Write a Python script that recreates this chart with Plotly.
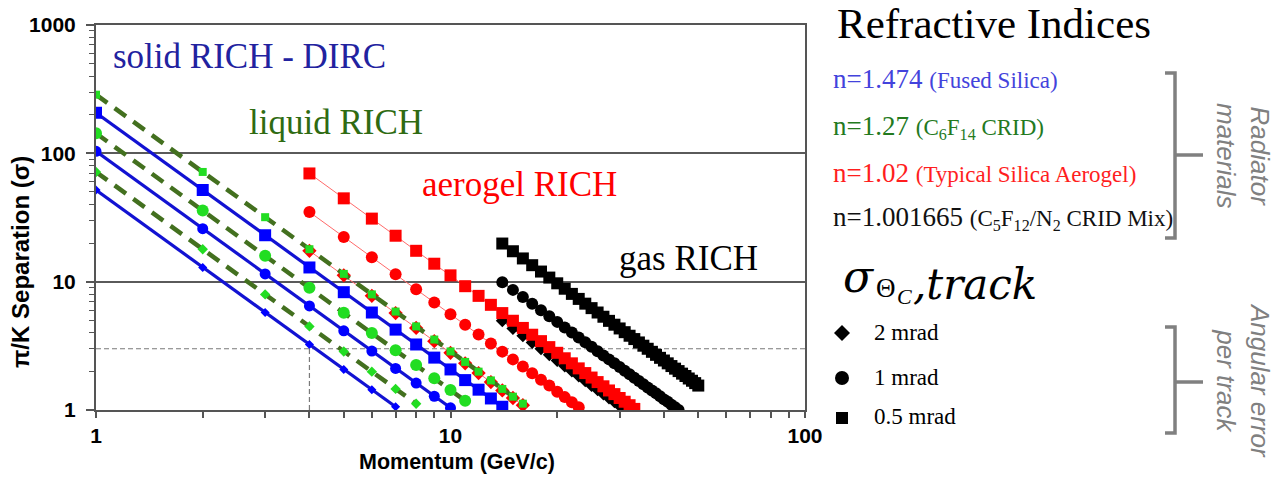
import plotly.graph_objects as go

W, H = 1282, 477

# ---------------- data (pi/K separation in sigma vs momentum in GeV/c) ----------------
# n = 1.474 fused silica (solid RICH / DIRC)
mom_silica_sq = list(range(1, 15))
sep_silica_sq = [207.1, 51.8, 23.0, 12.9, 8.28, 5.75, 4.23, 3.24, 2.56, 2.07, 1.71, 1.44, 1.23, 1.06]
mom_silica_ci = list(range(1, 11))
sep_silica_ci = [103.6, 25.9, 11.5, 6.47, 4.14, 2.88, 2.11, 1.62, 1.28, 1.04]
mom_silica_di = list(range(1, 8))
sep_silica_di = [51.8, 12.9, 5.75, 3.24, 2.07, 1.44, 1.06]

# n = 1.27 C6F14 (liquid RICH)
mom_liquid_sq = list(range(1, 17))
sep_liquid_sq = [286.5, 71.6, 31.8, 17.9, 11.5, 7.96, 5.85, 4.48, 3.54, 2.86, 2.37, 1.99, 1.70, 1.46, 1.27, 1.12]
mom_liquid_ci = list(range(1, 12))
sep_liquid_ci = [143.2, 35.8, 15.9, 8.95, 5.73, 3.98, 2.92, 2.24, 1.77, 1.43, 1.18]
mom_liquid_di = list(range(1, 9))
sep_liquid_di = [71.6, 17.9, 7.96, 4.48, 2.86, 1.99, 1.46, 1.12]

# n = 1.02 aerogel
mom_aero_sq = list(range(4, 34))
sep_aero_sq = [69.7, 44.6, 31.0, 22.8, 17.4, 13.8, 11.2, 9.22, 7.75, 6.60, 5.69, 4.96, 4.36, 3.86, 3.44,
               3.09, 2.79, 2.53, 2.31, 2.11, 1.94, 1.79, 1.65, 1.53, 1.42, 1.33, 1.24, 1.16, 1.09, 1.02]
mom_aero_ci = list(range(4, 24))
sep_aero_ci = [34.9, 22.3, 15.5, 11.4, 8.72, 6.89, 5.58, 4.61, 3.87, 3.30, 2.85, 2.48, 2.18, 1.93, 1.72,
               1.55, 1.39, 1.26, 1.15, 1.05]
mom_aero_di = list(range(4, 17))
sep_aero_di = [17.4, 11.2, 7.75, 5.69, 4.36, 3.44, 2.79, 2.31, 1.94, 1.65, 1.42, 1.24, 1.09]

# n = 1.001665 C5F12/N2 gas
mom_gas_sq = list(range(14, 51))
sep_gas_sq = [19.82, 17.26, 15.17, 13.44, 11.99, 10.76, 9.71, 8.81, 8.03, 7.34, 6.74, 6.22, 5.75, 5.33,
              4.95, 4.62, 4.32, 4.04, 3.79, 3.57, 3.36, 3.17, 3.00, 2.84, 2.69, 2.55, 2.43, 2.31, 2.20,
              2.10, 2.01, 1.92, 1.84, 1.76, 1.69, 1.62, 1.55]
mom_gas_ci = list(range(14, 45))
sep_gas_ci = [9.91, 8.63, 7.59, 6.72, 5.99, 5.38, 4.86, 4.40, 4.01, 3.67, 3.37, 3.11, 2.87, 2.66, 2.48,
              2.31, 2.16, 2.02, 1.90, 1.78, 1.68, 1.59, 1.50, 1.42, 1.35, 1.28, 1.21, 1.16, 1.10, 1.05, 1.00]
mom_gas_di = list(range(14, 32))
sep_gas_di = [4.95, 4.32, 3.79, 3.36, 3.00, 2.69, 2.43, 2.20, 2.01, 1.84, 1.69, 1.55, 1.44, 1.33, 1.24,
              1.16, 1.08, 1.01]

# 3-sigma reference at 4 GeV/c
ref_sep = [3, 3]
ref_mom_range = [1, 100]
ref_mom = [4, 4]
ref_sep_range = [1, 3]

x_major = [1, 10, 100]
x_minor = [2, 3, 4, 5, 6, 7, 8, 9, 20, 30, 40, 50, 60, 70, 80, 90]
y_major = [1, 10, 100, 1000]
y_minor = [2, 3, 4, 5, 6, 7, 8, 9, 20, 30, 40, 50, 60, 70, 80, 90, 200, 300, 400, 500, 600, 700, 800, 900]

# ---------------- styles ----------------
BLUE, BLUE_LINE = "#0000ff", "#1212d2"
GREEN, GREEN_LINE = "#22dd22", "#43701f"
RED, RED_LINE = "#ff0000", "#ff6a6a"
BLACK = "#000000"

def fx(x):
    return x / W

def fy(y):
    return 1 - y / H

fig = go.Figure()

def add(x, y, color, symbol, size, lcolor, lwidth, dash="solid"):
    fig.add_trace(go.Scatter(
        x=x, y=y, mode="lines+markers",
        marker=dict(symbol=symbol, size=size, color=color, line=dict(width=0)),
        line=dict(color=lcolor, width=lwidth, dash=dash),
        showlegend=False, hoverinfo="x+y"))

# reference lines
fig.add_trace(go.Scatter(x=ref_mom_range, y=ref_sep, mode="lines",
                         line=dict(color="#7a7a7a", width=1.2, dash="5px,3px"), showlegend=False))
fig.add_trace(go.Scatter(x=ref_mom, y=ref_sep_range, mode="lines",
                         line=dict(color="#7a7a7a", width=1.2, dash="5px,3px"), showlegend=False))

# gas
add(mom_gas_di, sep_gas_di, BLACK, "diamond", 10, BLACK, 1)
add(mom_gas_ci, sep_gas_ci, BLACK, "circle", 12, BLACK, 1)
add(mom_gas_sq, sep_gas_sq, BLACK, "square", 12, BLACK, 1)
# aerogel
add(mom_aero_di, sep_aero_di, RED, "diamond", 11, RED_LINE, 1)
add(mom_aero_ci, sep_aero_ci, RED, "circle", 12, RED_LINE, 1)
add(mom_aero_sq, sep_aero_sq, RED, "square", 12, RED_LINE, 1)
# liquid
add(mom_liquid_di, sep_liquid_di, GREEN, "diamond", 8, GREEN_LINE, 4.5, "14px,9px")
add(mom_liquid_ci, sep_liquid_ci, GREEN, "circle", 12, GREEN_LINE, 4.5, "14px,9px")
add(mom_liquid_sq, sep_liquid_sq, GREEN, "square", 8, GREEN_LINE, 4.5, "14px,9px")
# silica
add(mom_silica_di, sep_silica_di, BLUE, "diamond", 7, BLUE_LINE, 3.2)
add(mom_silica_ci, sep_silica_ci, BLUE, "circle", 11, BLUE_LINE, 3.2)
add(mom_silica_sq, sep_silica_sq, BLUE, "square", 12, BLUE_LINE, 3.2)

AX = "#555555"
fig.update_xaxes(
    type="log", range=[0, 2], domain=[fx(96), fx(805)], automargin=False,
    tickmode="array", tickvals=x_major, ticktext=[str(v) for v in x_major],
    ticks="outside", ticklen=6, tickwidth=1.5, tickcolor=AX,
    minor=dict(tickmode="array", tickvals=x_minor, ticks="outside", ticklen=6, tickwidth=1.5,
               tickcolor=AX, showgrid=False),
    showgrid=False, zeroline=False, showline=True, linecolor=AX, linewidth=2, mirror=True,
    tickfont=dict(family="Liberation Sans", size=21, color="#000", weight="bold"),
    ticklabelstandoff=0,
)
fig.update_yaxes(
    type="log", range=[0, 3], domain=[fy(410), fy(25)], automargin=False,
    tickmode="array", tickvals=y_major, ticktext=[str(v) for v in y_major],
    ticks="outside", ticklen=8, tickwidth=1.5, tickcolor=AX,
    minor=dict(tickmode="array", tickvals=y_minor, ticks="outside", ticklen=5, tickwidth=1.2,
               tickcolor=AX, showgrid=False),
    showgrid=True, gridcolor="#5a5a5a", gridwidth=1.5,
    zeroline=False, showline=True, linecolor=AX, linewidth=2, mirror=True,
    tickfont=dict(family="Liberation Sans", size=21, color="#000", weight="bold"),
    ticklabelstandoff=6,
)

ann = []

def text(x, y, t, size, color, family="Liberation Serif", xanchor="center", angle=0,
         italic=False, weight="normal"):
    ann.append(dict(xref="paper", yref="paper", x=fx(x), y=fy(y), text=t, showarrow=False,
                    xanchor=xanchor, yanchor="middle", textangle=angle, borderpad=0,
                    font=dict(family=family, size=size, color=color,
                              style="italic" if italic else "normal", weight=weight)))

# axis titles
text(457, 462, "Momentum (GeV/c)", 21.5, "#000", "Liberation Sans", weight="bold")
text(20, 262, "π/K Separation (σ)", 24, "#000", "Liberation Sans", angle=-90, weight="bold")

# in-plot labels
text(249, 57, "solid RICH - DIRC", 35, "#22229f")
text(336, 122, "liquid RICH", 35, "#2f6b12")
text(519, 184, "aerogel RICH", 35, "#ff0000")
text(688, 258, "gas RICH", 35, "#000000")

# right-hand panel
text(836, 24, "Refractive Indices", 43, "#000", xanchor="left")
S = "<span style='font-size:23px'>"
text(832, 79, "n=1.474 " + S + "(Fused Silica)</span>", 27, "#4343dc", xanchor="left")
text(832, 127, "n=1.27 " + S + "(C<sub>6</sub>F<sub>14</sub> CRID)</span>", 27, "#237a1e", xanchor="left")
text(832, 173, "n=1.02 " + S + "(Typical Silica Aerogel)</span>", 27, "#ff1e1e", xanchor="left")
text(832, 218, "n=1.001665 " + S + "(C<sub>5</sub>F<sub>12</sub>/N<sub>2</sub> CRID Mix)</span>", 27,
     "#111111", xanchor="left")

# sigma_{Theta_C, track}
text(842, 276, "σ", 44, "#000", "DejaVu Serif", xanchor="left", italic=True)
text(875, 288, "Θ", 27, "#000", "Liberation Serif", xanchor="left")
text(896, 296, "C", 22, "#000", "Liberation Serif", xanchor="left", italic=True)
text(912, 284, ",track", 42, "#000", "DejaVu Serif", xanchor="left", italic=True)

text(873, 332, "2 mrad", 23, "#000", xanchor="left")
text(873, 377, "1 mrad", 23, "#000", xanchor="left")
text(873, 416, "0.5 mrad", 23, "#000", xanchor="left")

GRAY = "#808080"
text(1243, 155, "Radiator<br>materials", 26, GRAY, "Liberation Sans", angle=90, italic=True)
text(1243, 380, "Angular error<br>per track", 26, GRAY, "Liberation Sans", angle=90, italic=True)

shapes = []

def path(pts_list, closed=False, fill=None, lw=0, lc=None):
    d = ""
    for pts in pts_list:
        d += "M" + " L".join(f"{fx(a):.5f},{fy(b):.5f}" for a, b in pts)
        if closed:
            d += " Z"
        d += " "
    s = dict(type="path", xref="paper", yref="paper", path=d.strip(),
             line=dict(width=lw, color=lc or "rgba(0,0,0,0)"))
    if fill:
        s["fillcolor"] = fill
    shapes.append(s)

# brackets
path([[(1165, 73), (1175, 73), (1175, 238), (1165, 238)], [(1175, 155), (1203, 155)]], lw=3.5, lc=GRAY)
path([[(1165, 327), (1175, 327), (1175, 433), (1165, 433)], [(1175, 382), (1203, 382)]], lw=3.5, lc=GRAY)

# legend glyphs
path([[(842, 325), (850, 333), (842, 341), (834, 333)]], closed=True, fill="#000")
shapes.append(dict(type="circle", xref="paper", yref="paper", x0=fx(835), x1=fx(849), y0=fy(385),
                   y1=fy(371), fillcolor="#000", line=dict(width=0)))
shapes.append(dict(type="rect", xref="paper", yref="paper", x0=fx(836), x1=fx(848), y0=fy(424),
                   y1=fy(412), fillcolor="#000", line=dict(width=0)))

fig.update_layout(
    width=W, height=H, margin=dict(l=0, r=0, t=0, b=0, autoexpand=False),
    paper_bgcolor="white", plot_bgcolor="white",
    annotations=ann, shapes=shapes, showlegend=False,
)

fig.write_html("out.html")
